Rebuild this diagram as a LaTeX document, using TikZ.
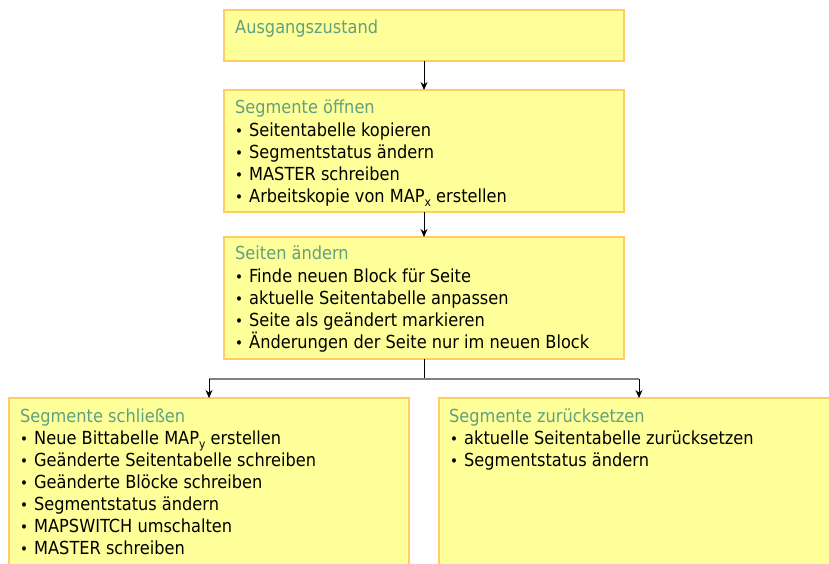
\documentclass[tikz,border=0pt]{standalone}
\usepackage{fontspec}
\setmainfont{DejaVu Sans Condensed}
\usetikzlibrary{arrows.meta}
\definecolor{boxfill}{HTML}{FFFF99}
\definecolor{boxline}{HTML}{FFCC66}
\definecolor{titlecol}{RGB}{96,160,128}
\definecolor{hline}{HTML}{808080}
\newcommand{\sub}[1]{\raisebox{-4pt}{\fontsize{12}{12}\selectfont #1}}
\tikzset{
  x=1pt, y=-1pt,
  box/.style={draw=boxline, fill=boxfill, line width=1.5pt, rectangle, anchor=north west, inner sep=0pt, outer sep=0pt},
  txt/.style={anchor=base west, inner sep=0pt, font=\fontsize{18}{22}\selectfont, text=black},
  ttl/.style={txt, text=titlecol},
  bul/.style={anchor=base west, inner sep=0pt, font=\fontsize{15}{22}\selectfont},
  conn/.style={line width=1pt, -{Stealth[length=8pt,width=7pt]}},
}
\begin{document}
\begin{tikzpicture}
\useasboundingbox (0,0) rectangle (829,563);
\clip (0,0) rectangle (829,563);
% boxes
\node[box, minimum width=400pt, minimum height=51pt] (b1) at (224,10) {};
\node[box, minimum width=400pt, minimum height=122pt] (b2) at (224,90) {};
\node[box, minimum width=400pt, minimum height=122pt] (b3) at (224,237) {};
\node[box, minimum width=400pt, minimum height=200pt] (b4) at (9,398) {};
\node[box, minimum width=400pt, minimum height=200pt] (b5) at (439,398) {};
% box 1
\node[ttl] (t1) at (235,33) {Ausgangszustand};
% box 2
\node[ttl] (t2) at (235,113) {Segmente öffnen};
\foreach \n/\y/\s in {a/136/{Seitentabelle kopieren}, b/158/{Segmentstatus ändern}, c/180/{MASTER schreiben}, d/202/{Arbeitskopie von MAP\sub{x} erstellen}} {
  \node[bul] (p2\n) at (235,\y) {•};
  \node[txt] (l2\n) at (249,\y) {\s};
}
% box 3
\node[ttl] (t3) at (235,259) {Seiten ändern};
\foreach \n/\y/\s in {a/282/{Finde neuen Block für Seite}, b/304/{aktuelle Seitentabelle anpassen}, c/326/{Seite als geändert markieren}, d/348/{Änderungen der Seite nur im neuen Block}} {
  \node[bul] (p3\n) at (235,\y) {•};
  \node[txt] (l3\n) at (249,\y) {\s};
}
% box 4
\node[ttl] (t4) at (20,422) {Segmente schließen};
\foreach \n/\y/\s in {a/444/{Neue Bittabelle MAP\sub{y} erstellen}, b/466/{Geänderte Seitentabelle schreiben}, c/488/{Geänderte Blöcke schreiben}, d/510/{Segmentstatus ändern}, e/532/{MAPSWITCH umschalten}, f/554/{MASTER schreiben}} {
  \node[bul] (p4\n) at (20,\y) {•};
  \node[txt] (l4\n) at (34,\y) {\s};
}
% box 5
\node[ttl] (t5) at (449,422) {Segmente zurücksetzen};
\foreach \n/\y/\s in {a/444/{aktuelle Seitentabelle zurücksetzen}, b/466/{Segmentstatus ändern}} {
  \node[bul] (p5\n) at (450,\y) {•};
  \node[txt] (l5\n) at (464,\y) {\s};
}
% connectors
\path (b3.south) ++(0,20) coordinate (j);
\draw[conn] (b1.south) -- (b2.north);
\draw[conn] (b2.south) -- (b3.north);
\draw[line width=1pt] (b3.south) -- (j);
\draw[hline, line width=1.5pt] (b4.north |- j) -- (b5.north |- j);
\draw[conn] (b4.north |- j) -- (b4.north);
\draw[conn] (b5.north |- j) -- (b5.north);
\end{tikzpicture}
\end{document}
